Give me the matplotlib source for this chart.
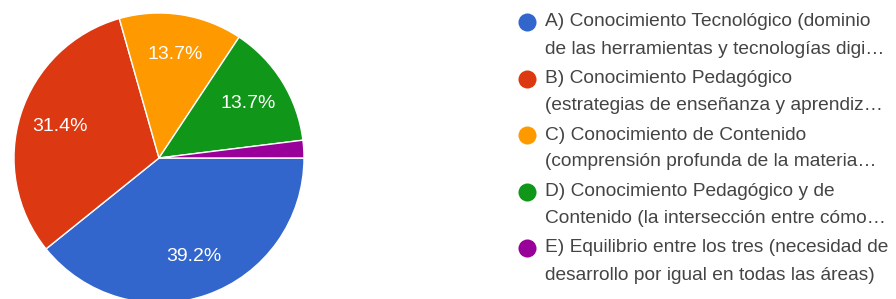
import matplotlib.pyplot as plt

plt.rcParams['font.family'] = ['Liberation Sans', 'DejaVu Sans']

# responses per option (51 in total)
labels = [
    ["A) Conocimiento Tecnológico (dominio", "de las herramientas y tecnologías digi…"],
    ["B) Conocimiento Pedagógico", "(estrategias de enseñanza y aprendiz…"],
    ["C) Conocimiento de Contenido", "(comprensión profunda de la materia…"],
    ["D) Conocimiento Pedagógico y de", "Contenido (la intersección entre cómo…"],
    ["E) Equilibrio entre los tres (necesidad de", "desarrollo por igual en todas las áreas)"],
]
counts = [20, 16, 7, 7, 1]
colors = ['#3366cc', '#dc3912', '#ff9900', '#109618', '#990099']

W, H = 896, 299
fig = plt.figure(figsize=(W / 100, H / 100), dpi=100)

# pie axes: centre (159, 158) px, radius 145 px
cx, cy, r = 159, 158, 145
ax = fig.add_axes([(cx - r) / W, (H - cy - r) / H, 2 * r / W, 2 * r / H])


def fmt(p):
    return f"{p:.1f}%" if p > 5 else ""


wedges, texts, autotexts = ax.pie(
    counts, colors=colors, startangle=0, counterclock=False,
    autopct=fmt, pctdistance=0.72,
    wedgeprops=dict(edgecolor='white', linewidth=1),
    textprops=dict(color='white', fontsize=14),
)
ax.set_xlim(-1, 1)
ax.set_ylim(-1, 1)
ax.set_aspect('equal')

# legend drawn in pixel coordinates
lax = fig.add_axes([0, 0, 1, 1])
lax.set_xlim(0, W)
lax.set_ylim(H, 0)
lax.axis('off')
lax.patch.set_alpha(0)

y0, step, gap = 22, 56.5, 27
for i, (lines, c) in enumerate(zip(labels, colors)):
    y = y0 + i * step
    lax.plot(527, y, 'o', color=c, markersize=13, markeredgewidth=0)
    lax.text(545, y, lines[0], fontsize=13.8, color='#444444', va='center')
    lax.text(545, y + gap, lines[1], fontsize=13.8, color='#444444', va='center')

fig.savefig('out.png', dpi=100)
